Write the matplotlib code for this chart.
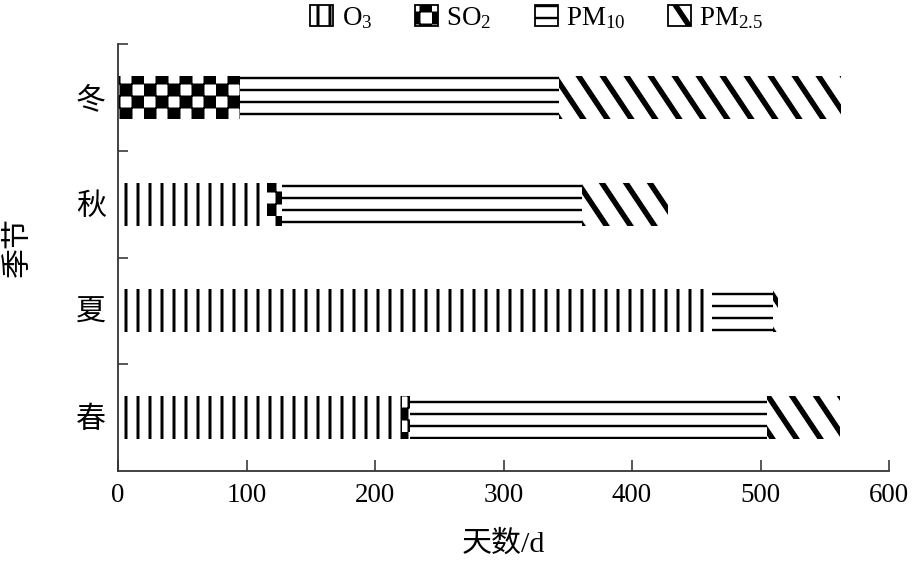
import warnings
warnings.filterwarnings("ignore")
import numpy as np
import matplotlib
matplotlib.use("Agg")
import matplotlib.pyplot as plt
import matplotlib.hatch as mhatch
from matplotlib.path import Path
from matplotlib.patches import Patch

# ---------------- data ----------------
seasons = ["春", "夏", "秋", "冬"]
o3 = [221, 462, 116, 0]
so2 = [6, 0, 12, 95]
pm10 = [278, 48, 233, 248]
pm25 = [57, 4, 67, 220]
xticks = [0, 100, 200, 300, 400, 500, 600]
legend_labels = ["O$_3$", "SO$_2$", "PM$_{10}$", "PM$_{2.5}$"]


# ---------------- custom hatches ----------------
class CheckerHatch(mhatch.HatchPatternBase):
    filled = True

    def __init__(self, hatch, density):
        self.n = int(hatch.count('c') * density)
        self.num_vertices = (self.n * self.n // 2) * 5 if self.n else 0

    def set_vertices_and_codes(self, vertices, codes):
        n = self.n
        k = 0
        d = 1.0 / n
        for i in range(n):
            for j in range(n):
                if (i + j) % 2 == 0:
                    x0, y0 = i * d, j * d
                    vertices[k:k + 5] = [[x0, y0], [x0 + d, y0], [x0 + d, y0 + d],
                                         [x0, y0 + d], [x0, y0]]
                    codes[k] = Path.MOVETO
                    codes[k + 1:k + 4] = Path.LINETO
                    codes[k + 4] = Path.CLOSEPOLY
                    k += 5


class SteepHatch(mhatch.HatchPatternBase):
    def __init__(self, hatch, density):
        self.cnt = hatch.count('d')
        self.num_vertices = 14 if self.cnt else 0

    def set_vertices_and_codes(self, vertices, codes):
        k = 0
        for i in range(-3, 4):
            x0 = i / 3.0
            vertices[k] = [x0, 1.0]
            vertices[k + 1] = [x0 + 2.0 / 3.0, 0.0]
            codes[k] = Path.MOVETO
            codes[k + 1] = Path.LINETO
            k += 2


mhatch._hatch_types.append(CheckerHatch)
mhatch._hatch_types.append(SteepHatch)

# ---------------- style ----------------
plt.rcParams['font.family'] = ['Liberation Serif', 'Noto Sans CJK SC']
plt.rcParams['mathtext.fontset'] = 'custom'
plt.rcParams['mathtext.rm'] = 'Liberation Serif'
plt.rcParams['mathtext.default'] = 'regular'

DPI = 72
fig = plt.figure(figsize=(920 / DPI, 566 / DPI), dpi=DPI)
ax = fig.add_axes([118 / 920, 1 - 471 / 566, (889 - 118) / 920, (471 - 44) / 566])

y = np.arange(len(seasons))
h = 0.405
series = [o3, so2, pm10, pm25]
hatches = ['|', 'c', '-', 'd']
hlw = [3.0, 1.0, 2.4, 5.5]

left = np.zeros(len(seasons))
for vals, hp, lw in zip(series, hatches, hlw):
    with plt.rc_context({'hatch.linewidth': lw}):
        bars = ax.barh(y, vals, left=left, height=h, color='white',
                       edgecolor='black', linewidth=0, hatch=hp)
    for b in bars:
        try:
            b.set_hatch_linewidth(lw)
        except Exception:
            pass
    left = left + np.array(vals)

ax.set_xlim(0, 600)
ax.set_ylim(-0.5, 3.5)
ax.set_xticks(xticks)
ax.set_xticklabels([str(v) for v in xticks], fontsize=27)
ax.set_yticks(y)
ax.set_yticklabels(seasons, fontsize=30)
ax.set_yticks([0.5, 1.5, 2.5, 3.5], minor=True)
ax.tick_params(axis='y', which='major', length=0, pad=12)
ax.tick_params(axis='y', which='minor', direction='in', length=10, width=1.6, color='#333333')
ax.tick_params(axis='x', direction='in', length=11, width=1.6, color='#333333', pad=12)
for s in ['top', 'right']:
    ax.spines[s].set_visible(False)
for s in ['left', 'bottom']:
    ax.spines[s].set_linewidth(1.8)
    ax.spines[s].set_color('#333333')

ax.set_xlabel("天数/d", fontsize=30, labelpad=22)
ax.set_ylabel("季节", fontsize=30)
ax.yaxis.set_label_coords((32 - 118) / 771, (471 - 247) / 427)

handles = [Patch(facecolor='white', edgecolor='black', linewidth=1.8, hatch=hp)
           for hp in hatches]

leg = fig.legend(handles, legend_labels, ncol=4, loc='center',
                 bbox_to_anchor=(537 / 920, 1 - 18 / 566), frameon=False,
                 fontsize=27, handlelength=0.85, handleheight=0.85,
                 handletextpad=0.3, columnspacing=1.6, borderpad=0.1)
for p, lw in zip(leg.get_patches(), hlw):
    try:
        p.set_hatch_linewidth(lw)
    except Exception:
        pass

fig.savefig("out.png", dpi=DPI)
